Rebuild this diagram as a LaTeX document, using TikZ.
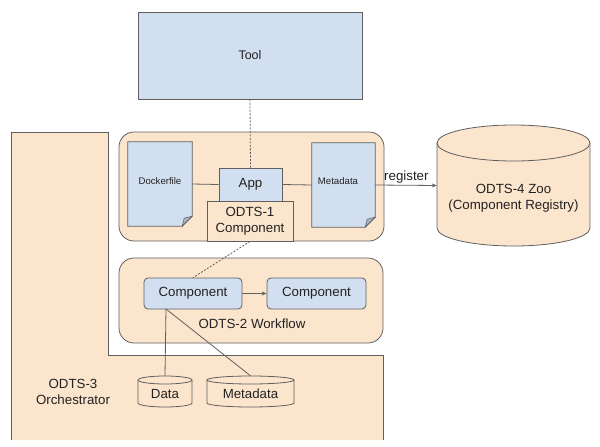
\documentclass[tikz,border=0pt]{standalone}
\usepackage{fontspec}
\setmainfont{Liberation Sans}
\usetikzlibrary{arrows.meta,calc}
\definecolor{orangefill}{HTML}{FCE5CD}
\definecolor{bluefill}{HTML}{D2DFF0}
\definecolor{edgec}{HTML}{5F5F5F}
\definecolor{foldc}{HTML}{A9B5C4}
\definecolor{textc}{HTML}{222222}
\tikzset{
  base/.style={draw=edgec, line width=0.8pt, text=textc, inner sep=0pt, align=center, font=\fontsize{13.3}{15.5}\selectfont},
  bluebox/.style={base, fill=bluefill},
  orangebox/.style={base, fill=orangefill},
  container/.style={base, fill=orangefill, rounded corners=15pt},
  compbox/.style={base, fill=bluefill, rounded corners=4pt},
  docholder/.style={inner sep=0pt, text=textc, font=\fontsize{9.6}{11}\selectfont},
  cylholder/.style={inner sep=0pt, text=textc, align=center, font=\fontsize{13.3}{15.5}\selectfont},
  lbl/.style={text=textc, inner sep=0pt, align=center, font=\fontsize{13.3}{15.5}\selectfont},
  conn/.style={draw=edgec, line width=0.8pt},
  dashconn/.style={draw=edgec, line width=0.8pt, dash pattern=on 2pt off 1.5pt},
}
\begin{document}
\begin{tikzpicture}[x=1pt,y=-1pt]
\useasboundingbox (0,0) rectangle (600,447);

% Orchestrator L-shape
\fill[orangefill] (11,132) -- (108,132) -- (108,355) -- (383,355) -- (383,440) -- (11,440) -- cycle;
\draw[conn] (11,440) -- (11,132) -- (108,132) -- (108,355) -- (383,355) -- (383,440);
\node[lbl] (orch) at (73,392) {ODTS-3\\Orchestrator};

% Tool
\node[bluebox, minimum width=224pt, minimum height=87pt, font=\fontsize{12.5}{15}\selectfont] (tool) at (250,55.5) {Tool};

% ODTS-1 container
\node[container, minimum width=265pt, minimum height=109pt] (odts1) at (251.5,186.5) {};

% Dockerfile document
\node[docholder, minimum width=64pt, minimum height=84pt] (dock) at (160,184) {};
\draw[base, fill=bluefill] (dock.north west) -- (dock.north east) -- ($(dock.south east)+(0,-10)$) -- ($(dock.south east)+(-10,0)$) -- (dock.south west) -- cycle;
\fill[foldc, draw=edgec, line width=0.6pt] ($(dock.south east)+(0,-10)$) -- ($(dock.south east)+(-10,0)$) -- ($(dock.south east)+(-8,-8)$) -- cycle;
\node[docholder] (docklbl) at (160,181) {Dockerfile};

% Metadata document
\node[docholder, minimum width=63pt, minimum height=84pt] (meta) at (343.5,185) {};
\draw[base, fill=bluefill] (meta.north west) -- (meta.north east) -- ($(meta.south east)+(0,-10)$) -- ($(meta.south east)+(-10,0)$) -- (meta.south west) -- cycle;
\fill[foldc, draw=edgec, line width=0.6pt] ($(meta.south east)+(0,-10)$) -- ($(meta.south east)+(-10,0)$) -- ($(meta.south east)+(-8,-8)$) -- cycle;
\node[docholder] (metalbl) at (338,181) {Metadata};

% App and ODTS-1 component
\node[bluebox, minimum width=63pt, minimum height=33pt] (app) at (250.5,184.5) {App};
\node[orangebox, minimum width=86pt, minimum height=40pt] (odts1c) at (250,221) {ODTS-1\\Component};

\draw[conn] (dock.east) -- (app.west);
\draw[conn] (app.east) -- (meta.west);
\draw[dashconn] (tool.south) -- (app.north);

% Zoo cylinder
\node[cylholder, minimum width=153pt, minimum height=121pt] (zoo) at (513.5,185.5) {};
\fill[orangefill] (513.5,228) ellipse [x radius=76.5pt, y radius=18pt];
\fill[orangefill] (437,143) rectangle (590,228);
\draw[conn] (437,143) -- (437,228) arc [start angle=180, end angle=360, x radius=76.5pt, y radius=18pt] -- (590,143);
\draw[conn, fill=orangefill] (513.5,143) ellipse [x radius=76.5pt, y radius=18pt];
\node[lbl] (zoolbl) at (513.5,198) {ODTS-4 Zoo\\(Component Registry)};

\draw[conn, -{Stealth[length=5pt,width=4pt]}] (meta.east) -- (zoo.west) node[lbl, pos=0.14, anchor=south west, yshift=1.5pt] (reg) {register};

% ODTS-2 workflow container
\node[container, minimum width=264pt, minimum height=85pt] (odts2) at (251,300.5) {};
\node[compbox, minimum width=98pt, minimum height=31pt] (c1) at (193,293.5) {Component};
\node[compbox, minimum width=99pt, minimum height=31pt] (c2) at (316.5,293.5) {Component};
\node[lbl] (wf) at (252,324) {ODTS-2 Workflow};
\draw[conn, -{Stealth[length=5pt,width=4pt]}] (c1.east) -- (c2.west);
\draw[dashconn] (odts1c.south) -- (c1.north);

% Data cylinders
\node[cylholder, minimum width=54pt, minimum height=31pt] (data) at (165,391.5) {};
\fill[orangefill] (138,380) rectangle (192,403);
\fill[orangefill] (165,403) ellipse [x radius=27pt, y radius=4pt];
\draw[conn] (138,380) -- (138,403) arc [start angle=180, end angle=360, x radius=27pt, y radius=4pt] -- (192,380);
\draw[conn, fill=orangefill] (165,380) ellipse [x radius=27pt, y radius=4pt];
\node[lbl] (datalbl) at (165,394) {Data};

\node[cylholder, minimum width=87pt, minimum height=31pt] (mdb) at (250.5,391.5) {};
\fill[orangefill] (207,380) rectangle (294,403);
\fill[orangefill] (250.5,403) ellipse [x radius=43.5pt, y radius=4pt];
\draw[conn] (207,380) -- (207,403) arc [start angle=180, end angle=360, x radius=43.5pt, y radius=4pt] -- (294,380);
\draw[conn, fill=orangefill] (250.5,380) ellipse [x radius=43.5pt, y radius=4pt];
\node[lbl] (mdblbl) at (250.5,394) {Metadata};

\coordinate (c1b) at (166,309);
\draw[conn] (c1b) -- (data.north);
\draw[conn] (c1b) -- (mdb.north);
\end{tikzpicture}
\end{document}
